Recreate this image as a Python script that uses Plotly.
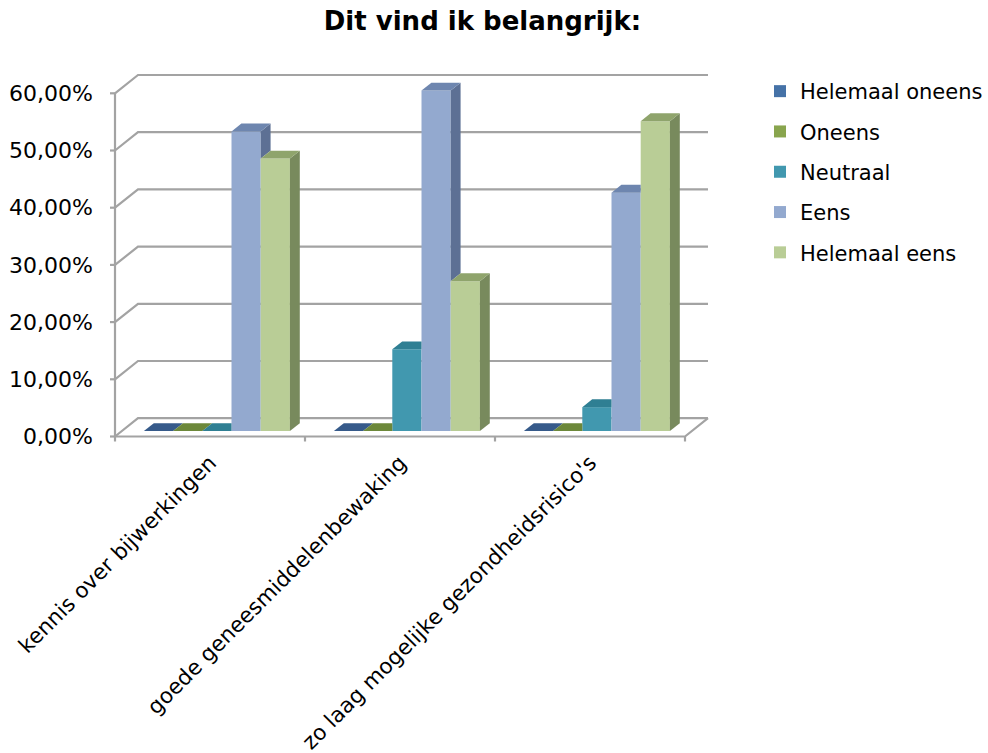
import plotly.graph_objects as go

# ---- data ----
categories = [
    "kennis over bijwerkingen",
    "goede geneesmiddelenbewaking",
    "zo laag mogelijke gezondheidsrisico's",
]
series_names = ["Helemaal oneens", "Oneens", "Neutraal", "Eens", "Helemaal eens"]
helemaal_oneens = [0.0, 0.0, 0.0]
oneens = [0.0, 0.0, 0.0]
neutraal = [0.0, 14.29, 4.17]
eens = [52.38, 59.52, 41.67]
helemaal_eens = [47.62, 26.19, 54.17]
y_ticks = [0, 10, 20, 30, 40, 50, 60]
y_tick_labels = ["0,00%", "10,00%", "20,00%", "30,00%", "40,00%", "50,00%", "60,00%"]

series_values = [helemaal_oneens, oneens, neutraal, eens, helemaal_eens]

# face colours per series: front, top, right side
front_colors = ["#4572A7", "#89A54E", "#4198AF", "#93A9CF", "#B9CD96"]
top_colors = ["#365A8A", "#6C883A", "#2F7F93", "#6E86AF", "#8FA46C"]
side_colors = ["#2C4C75", "#5A7330", "#2A6C7D", "#5D7094", "#788A5D"]

GRID = "#A3A3A3"
FONT = "DejaVu Sans"

# ---- 3D projection helpers (axis units) ----
PX_X = 190.0          # pixels per category
PX_Y = 5.72           # pixels per percentage point
DEPTH_X = 23.0 / PX_X  # full floor depth, horizontal component
DEPTH_Y = 18.3 / PX_Y  # full floor depth, vertical component
FRONT_F = 0.30         # bar front plane, as fraction of floor depth
THICK_F = 0.43         # bar thickness, as fraction of floor depth
BAR_W = 29.2 / PX_X

SHIFT_X = FRONT_F * DEPTH_X
LIFT = FRONT_F * DEPTH_Y
DDX = THICK_F * DEPTH_X
DDY = THICK_F * DEPTH_Y
SLOPE = DDY / DDX

n_cat = len(categories)
n_ser = len(series_names)


def bar_left(i, j):
    return i + 0.5 + (j - n_ser / 2) * BAR_W + SHIFT_X


fig = go.Figure()

# front faces
for j, name in enumerate(series_names):
    fig.add_trace(go.Bar(
        x=[bar_left(i, j) + BAR_W / 2 for i in range(n_cat)],
        y=series_values[j],
        base=[LIFT] * n_cat,
        width=BAR_W,
        name=name,
        legendgroup=name,
        marker=dict(color=front_colors[j], line=dict(width=0)),
        hoverinfo="skip",
    ))


def add_face(xs, ys, color):
    fig.add_trace(go.Scatter(
        x=xs + [xs[0]], y=ys + [ys[0]], mode="lines", fill="toself",
        fillcolor=color, line=dict(width=0, color=color),
        showlegend=False, hoverinfo="skip",
    ))


# side and top faces, painted left to right inside each group
for i in range(n_cat):
    for j in range(n_ser):
        v = series_values[j][i]
        xl = bar_left(i, j)
        xr = xl + BAR_W
        t = LIFT + v
        nxt = series_values[j + 1][i] if j + 1 < n_ser else None

        # right side face, hidden below the neighbour's front height
        bottom = LIFT if nxt is None else LIFT + nxt
        if t > bottom:
            add_face([xr, xr, xr + DDX, xr + DDX],
                     [bottom, t, t + DDY, bottom + DDY], side_colors[j])

        # top face, part behind a taller neighbour removed
        if nxt is not None and LIFT + nxt > t:
            h = min(LIFT + nxt, t + DDY)
            xs = [xl, xr, xr, xr + (h - t) / SLOPE, xr + DDX, xl + DDX]
            ys = [t, t, h, h, t + DDY, t + DDY]
        else:
            xs = [xl, xr, xr + DDX, xl + DDX]
            ys = [t, t, t + DDY, t + DDY]
        add_face(xs, ys, top_colors[j])

# ---- walls, floor and axis lines ----
shapes = []
line = dict(color=GRID, width=2.2)
x_end = n_cat
for v in y_ticks:
    shapes.append(dict(
        type="path", xref="x", yref="y", layer="below", line=line,
        path=f"M0,{v} L{DEPTH_X},{v + DEPTH_Y} L{x_end + DEPTH_X},{v + DEPTH_Y}",
    ))
    shapes.append(dict(type="line", xref="x", yref="y", layer="below", line=line,
                       x0=-5 / PX_X, x1=0, y0=v, y1=v))
shapes.append(dict(
    type="path", xref="x", yref="y", layer="below", line=line,
    path=f"M0,0 L{x_end},0 L{x_end + DEPTH_X},{DEPTH_Y}",
))
shapes.append(dict(type="line", xref="x", yref="y", layer="below", line=line,
                   x0=0, x1=0, y0=0, y1=y_ticks[-1]))
for k in range(n_cat + 1):
    shapes.append(dict(type="line", xref="x", yref="y", layer="below", line=line,
                       x0=k, x1=k, y0=0, y1=-5 / PX_Y))

# plot area: left 108px, right 720px, top 60px, bottom 445px
left_px, right_px, top_px, bottom_px = 108, 720, 60, 445
zero_px = 436.5
x_range = [-(115 - left_px) / PX_X, (right_px - 115) / PX_X]
y_range = [-(bottom_px - zero_px) / PX_Y, (zero_px - top_px) / PX_Y]

fig.update_layout(
    width=988, height=753,
    margin=dict(l=left_px, r=988 - right_px, t=top_px, b=753 - bottom_px,
                autoexpand=False),
    paper_bgcolor="white", plot_bgcolor="white",
    barmode="overlay",
    shapes=shapes,
    font=dict(family=FONT, color="#000000"),
    title=dict(text="<b>Dit vind ik belangrijk:</b>", x=482.5 / 988, xanchor="center",
               xref="container", y=1 - 21 / 753, yanchor="middle", yref="container",
               font=dict(family=FONT, size=26, color="#000000")),
    xaxis=dict(range=x_range, showgrid=False, zeroline=False, showline=False,
               tickvals=[i + 0.5 for i in range(n_cat)], ticktext=categories,
               tickangle=-45, ticks="", tickfont=dict(size=21.5, family=FONT),
               fixedrange=True),
    yaxis=dict(range=y_range, showgrid=False, zeroline=False, showline=False,
               tickvals=y_ticks, ticktext=y_tick_labels, ticks="",
               ticklabelstandoff=14, tickfont=dict(size=22, family=FONT),
               fixedrange=True),
    legend=dict(x=760 / 988, xanchor="left", xref="container",
                y=1 - 71 / 753, yanchor="top", yref="container",
                font=dict(size=21, family=FONT), tracegroupgap=10,
                bgcolor="rgba(0,0,0,0)", traceorder="grouped"),
    showlegend=True,
)

fig.write_html("out.html")
